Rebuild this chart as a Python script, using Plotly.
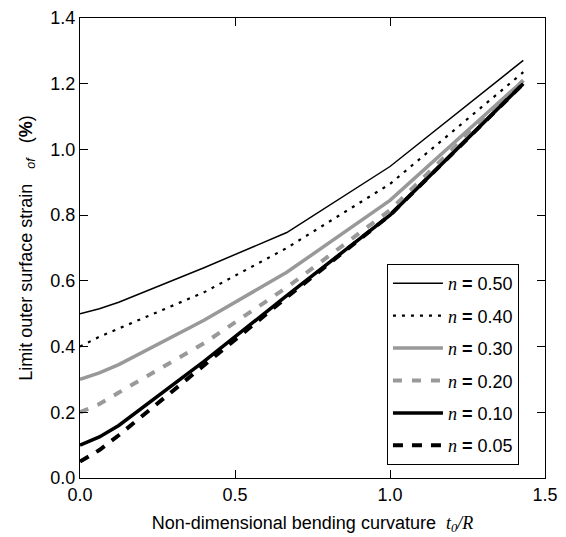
import plotly.graph_objects as go

x_vals = [0.0, 0.0625, 0.125, 0.4, 0.667, 1.0, 1.43]
n050 = [0.50, 0.515, 0.535, 0.64, 0.747, 0.948, 1.271]
n040 = [0.40, 0.43, 0.455, 0.565, 0.70, 0.895, 1.235]
n030 = [0.30, 0.32, 0.345, 0.48, 0.626, 0.845, 1.21]
n020 = [0.20, 0.225, 0.26, 0.41, 0.58, 0.815, 1.21]
n010 = [0.10, 0.125, 0.16, 0.355, 0.555, 0.80, 1.20]
n005 = [0.05, 0.085, 0.13, 0.345, 0.55, 0.80, 1.20]
labels = ["0.50", "0.40", "0.30", "0.20", "0.10", "0.05"]

series = [n050, n040, n030, n020, n010, n005]
styles = [
    dict(color="black", width=1.5, dash="solid"),
    dict(color="black", width=2.2, dash="3px,6px"),
    dict(color="#999999", width=3.5, dash="solid"),
    dict(color="#999999", width=4, dash="9px,10px"),
    dict(color="black", width=3.5, dash="solid"),
    dict(color="black", width=4, dash="10px,9px"),
]

fig = go.Figure()
for i, (ys, lab, st) in enumerate(zip(series, labels, styles)):
    fig.add_trace(go.Scatter(
        x=x_vals, y=ys, mode="lines", line=st,
        name="<span style=\"font-family:'Liberation Serif'\"><i>n</i></span> <b>=</b> " + lab,
        legendgroup=f"g{i}",
    ))

axis_common = dict(
    showgrid=False, zeroline=False, showline=True, linecolor="black", linewidth=1,
    mirror="ticks", ticks="inside", ticklen=8, tickcolor="black", tickwidth=1,
    tickfont=dict(family="Liberation Sans, Arial", size=18, color="black"),
    automargin=False, ticklabeloverflow="allow",
)

fig.update_layout(
    width=566, height=537,
    margin=dict(l=72, r=29, t=10, b=67),
    paper_bgcolor="white", plot_bgcolor="white",
    font=dict(family="Liberation Sans, Arial", color="black"),
    xaxis=dict(range=[0, 1.5], tickvals=[0, 0.5, 1.0, 1.5], ticktext=["0.0", "0.5", "1.0", "1.5"],
               title=dict(text="Non-dimensional bending curvature  <i><span style=\"font-family:'Liberation Serif'\">t<sub>0</sub>/R</span></i>",
                          font=dict(size=18), standoff=12),
               **axis_common),
    yaxis=dict(range=[0, 1.4], tickvals=[0, 0.2, 0.4, 0.6, 0.8, 1.0, 1.2, 1.4],
               ticktext=["0.0", "0.2", "0.4", "0.6", "0.8", "1.0", "1.2", "1.4"],
               title=dict(text="Limit outer surface strain   <sub><i>of</i></sub>   (<b>%</b>)",
                          font=dict(size=18), standoff=13),
               **axis_common),
    legend=dict(x=0.944, y=0.028, xanchor="right", yanchor="bottom",
                bordercolor="black", borderwidth=1, bgcolor="white",
                font=dict(size=18, family="Liberation Sans, Arial"),
                tracegroupgap=6, itemwidth=50),
    showlegend=True,
)

fig.write_html("out.html")
